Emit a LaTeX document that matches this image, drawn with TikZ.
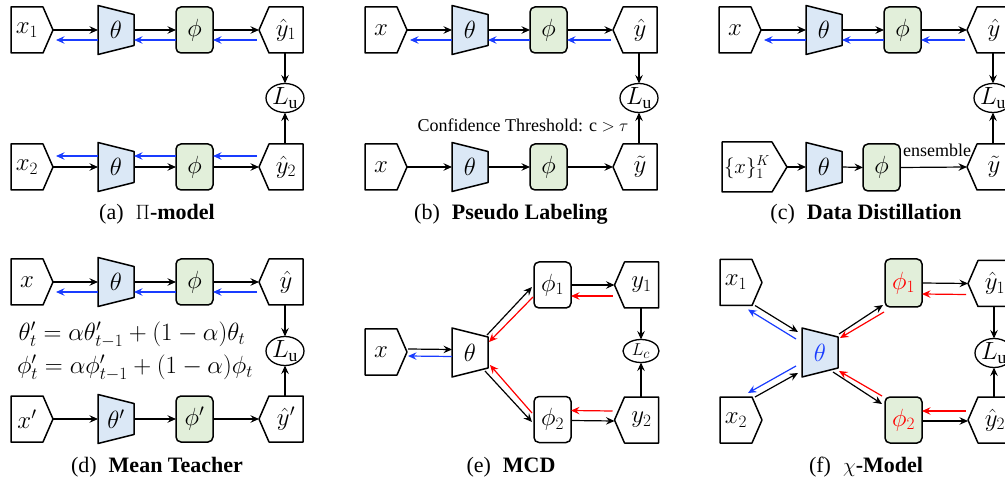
\documentclass[tikz,border=0pt]{standalone}
\usepackage{fontspec}
\setmainfont{Liberation Serif}
\usetikzlibrary{arrows.meta,calc,shapes.geometric}

\definecolor{thetafill}{RGB}{219,232,246}
\definecolor{phifill}{RGB}{226,239,218}
\definecolor{gradblue}{RGB}{25,60,255}
\definecolor{gradred}{RGB}{255,0,0}

\tikzset{
  blockline/.style={draw=black, line width=1.5pt, line join=round},
  mtxt/.style={font=\fontsize{25}{29}\selectfont, inner sep=0pt, outer sep=0pt},
  phibox/.style={mtxt, blockline, rounded corners=5pt, fill=phifill, minimum width=37pt, minimum height=46pt},
  lossnode/.style={ellipse, draw, line width=1.3pt, inner sep=0pt, outer sep=0pt, minimum width=38pt, minimum height=29pt},
  fw/.style={line width=1.2pt, -{Stealth[length=8.5pt,width=7.5pt,inset=3pt]}},
  bw/.style={fw, draw=gradblue},
  rw/.style={fw, draw=gradred},
  captxt/.style={font=\fontsize{22}{26}\selectfont, inner sep=0pt},
  notetxt/.style={font=\fontsize{18}{22}\selectfont, inner sep=0pt},
}

% input block, pointer on the right: name, cx, cy, width, height, pointer depth, text
\newcommand{\srcnode}[7]{%
  \node[mtxt, minimum width=#4pt, minimum height=#5pt] (#1) at (#2,#3) {#7};
  \draw[blockline] (#1.north west) -- (#1.north east) -- ($(#1.east)+(#6,0)$) coordinate (#1-t)
    -- (#1.south east) -- (#1.south west) -- cycle;}
% output block, pointer on the left
\newcommand{\outnode}[7]{%
  \node[mtxt, minimum width=#4pt, minimum height=#5pt] (#1) at (#2,#3) {#7};
  \draw[blockline] (#1.north east) -- (#1.north west) -- ($(#1.west)-(#6,0)$) coordinate (#1-t)
    -- (#1.south west) -- (#1.south east) -- cycle;}
% encoder trapezoid: name, cx, cy, fill, text
\newcommand{\encnode}[5]{%
  \coordinate (#1-c) at (#2,#3);
  \filldraw[blockline, fill=#4] ($(#1-c)+(-18,-24.5)$) -- ($(#1-c)+(18,-15.5)$)
    -- ($(#1-c)+(18,15.5)$) -- ($(#1-c)+(-18,24.5)$) -- cycle;
  \node[mtxt, minimum width=36pt, minimum height=49pt] (#1) at (#1-c) {#5};}

\begin{document}
\begin{tikzpicture}[x=1pt,y=-1pt]
\useasboundingbox (0,0) rectangle (1005,481);
\clip (0,0) rectangle (1005,481);

% ================= (a) Pi-model =================
\srcnode{a-x1}{27}{30}{32}{46}{10}{$x_1$}
\encnode{a-t1}{116}{30}{thetafill}{$\theta$}
\node[phibox] (a-p1) at (194.5,30) {$\phi$};
\outnode{a-y1}{286}{30}{34}{46}{10}{$\hat{y}_1$}
\srcnode{a-x2}{27}{167}{32}{46}{10}{$x_2$}
\encnode{a-t2}{116}{167}{thetafill}{$\theta$}
\node[phibox] (a-p2) at (194.5,167) {$\phi$};
\outnode{a-y2}{286}{167}{34}{46}{10}{$\hat{y}_2$}
\node[lossnode, label={[mtxt]center:$L_{\mathrm{u}}$}] (a-L) at (285,98) {};
\draw[fw] (a-x1-t) -- (a-t1.west);
\draw[fw] (a-t1.east) -- (a-p1.west);
\draw[fw] (a-p1.east) -- (a-y1-t);
\draw[bw] ($(a-t1.west)+(0,10)$) -- ($(a-x1-t)+(3,10)$);
\draw[bw] ($(a-p1.west)+(0,10)$) -- ($(a-t1.east)+(0,10)$);
\draw[bw] ($(a-y1-t)+(-2,10)$) -- ($(a-p1.east)+(0,10)$);
\draw[fw] (a-x2-t) -- (a-t2.west);
\draw[fw] (a-t2.east) -- (a-p2.west);
\draw[fw] (a-p2.east) -- (a-y2-t);
\draw[bw] ($(a-t2.west)+(0,-11)$) -- ($(a-x2-t)+(3,-11)$);
\draw[bw] ($(a-p2.west)+(0,-11)$) -- ($(a-t2.east)+(0,-11)$);
\draw[bw] ($(a-y2-t)+(-2,-11)$) -- ($(a-p2.east)+(0,-11)$);
\draw[fw] (a-y1.south -| a-L.north) -- (a-L.north);
\draw[fw] (a-y2.north -| a-L.south) -- (a-L.south);
\node[captxt] (a-cap) at (157,214) {(a)\hspace{12pt}$\Pi$\textbf{-model}};

% ================= (b) Pseudo Labeling =================
\begin{scope}[xshift=354pt]
\srcnode{b-x1}{27}{30}{32}{46}{10}{$x$}
\encnode{b-t1}{116}{30}{thetafill}{$\theta$}
\node[phibox] (b-p1) at (194.5,30) {$\phi$};
\outnode{b-y1}{286}{30}{34}{46}{10}{$\hat{y}$}
\srcnode{b-x2}{27}{167}{32}{46}{10}{$x$}
\encnode{b-t2}{116}{167}{thetafill}{$\theta$}
\node[phibox] (b-p2) at (194.5,167) {$\phi$};
\outnode{b-y2}{286}{167}{34}{46}{10}{$\tilde{y}$}
\node[lossnode, label={[mtxt]center:$L_{\mathrm{u}}$}] (b-L) at (285,98) {};
\draw[fw] (b-x1-t) -- (b-t1.west);
\draw[fw] (b-t1.east) -- (b-p1.west);
\draw[fw] (b-p1.east) -- (b-y1-t);
\draw[bw] ($(b-t1.west)+(0,10)$) -- ($(b-x1-t)+(3,10)$);
\draw[bw] ($(b-p1.west)+(0,10)$) -- ($(b-t1.east)+(0,10)$);
\draw[bw] ($(b-y1-t)+(-2,10)$) -- ($(b-p1.east)+(0,10)$);
\draw[fw] (b-x2-t) -- (b-t2.west);
\draw[fw] (b-t2.east) -- (b-p2.west);
\draw[fw] (b-p2.east) -- (b-y2-t);
\draw[fw] (b-y1.south -| b-L.north) -- (b-L.north);
\draw[fw] (b-y2.north -| b-L.south) -- (b-L.south);
\node[notetxt] (b-thr) at (169,125) {Confidence Threshold: c $>$ $\tau$};
\node[captxt] (b-cap) at (157,214) {(b)\hspace{12pt}\textbf{Pseudo Labeling}};
\end{scope}

% ================= (c) Data Distillation =================
\begin{scope}[xshift=708pt]
\srcnode{c-x1}{27}{30}{32}{46}{10}{$x$}
\encnode{c-t1}{116}{30}{thetafill}{$\theta$}
\node[phibox] (c-p1) at (194.5,30) {$\phi$};
\outnode{c-y1}{286}{30}{34}{46}{10}{$\hat{y}$}
\srcnode{c-x2}{39}{167}{50}{50}{15}{\fontsize{22}{26}\selectfont$\{x\}_1^K$}
\encnode{c-t2}{116}{167}{thetafill}{$\theta$}
\node[phibox, minimum height=47pt] (c-p2) at (173.5,167.5) {$\phi$};
\outnode{c-y2}{286}{167}{34}{46}{10}{$\tilde{y}$}
\node[lossnode, label={[mtxt]center:$L_{\mathrm{u}}$}] (c-L) at (285,98) {};
\draw[fw] (c-x1-t) -- (c-t1.west);
\draw[fw] (c-t1.east) -- (c-p1.west);
\draw[fw] (c-p1.east) -- (c-y1-t);
\draw[bw] ($(c-t1.west)+(0,10)$) -- ($(c-x1-t)+(3,10)$);
\draw[bw] ($(c-p1.west)+(0,10)$) -- ($(c-t1.east)+(0,10)$);
\draw[bw] ($(c-y1-t)+(-2,10)$) -- ($(c-p1.east)+(0,10)$);
\draw[fw] (c-x2-t) -- (c-t2.west);
\draw[fw] (c-t2.east) -- (c-p2.west);
\draw[fw] (c-p2.east) -- (c-y2-t);
\node[notetxt] (c-ens) at (229,150) {ensemble};
\draw[fw] (c-y1.south -| c-L.north) -- (c-L.north);
\draw[fw] (c-y2.north -| c-L.south) -- (c-L.south);
\node[captxt] (c-cap) at (158,214) {(c)\hspace{12pt}\textbf{Data Distillation}};
\end{scope}

% ================= (d) Mean Teacher =================
\srcnode{d-x1}{27}{282}{32}{46}{10}{$x$}
\encnode{d-t1}{116}{282}{thetafill}{$\theta$}
\node[phibox] (d-p1) at (194.5,282) {$\phi$};
\outnode{d-y1}{286}{282}{34}{46}{10}{$\hat{y}$}
\srcnode{d-x2}{27}{419}{32}{46}{10}{$x'$}
\encnode{d-t2}{116}{419}{thetafill}{$\theta'$}
\node[phibox] (d-p2) at (194.5,419) {$\phi'$};
\outnode{d-y2}{286}{419}{34}{46}{10}{$\hat{y}'$}
\node[lossnode, label={[mtxt]center:$L_{\mathrm{u}}$}] (d-L) at (285,351) {};
\draw[fw] (d-x1-t) -- (d-t1.west);
\draw[fw] (d-t1.east) -- (d-p1.west);
\draw[fw] (d-p1.east) -- (d-y1-t);
\draw[bw] ($(d-t1.west)+(0,10)$) -- ($(d-x1-t)+(3,10)$);
\draw[bw] ($(d-p1.west)+(0,10)$) -- ($(d-t1.east)+(0,10)$);
\draw[bw] ($(d-y1-t)+(-2,10)$) -- ($(d-p1.east)+(0,10)$);
\draw[fw] (d-x2-t) -- (d-t2.west);
\draw[fw] (d-t2.east) -- (d-p2.west);
\draw[fw] (d-p2.east) -- (d-y2-t);
\draw[fw] (d-y1.south -| d-L.north) -- (d-L.north);
\draw[fw] (d-y2.north -| d-L.south) -- (d-L.south);
\node[mtxt] (d-eq1) at (132,335) {$\theta'_t = \alpha\theta'_{t-1} + (1-\alpha)\theta_t$};
\node[mtxt] (d-eq2) at (135,368) {$\phi'_t = \alpha\phi'_{t-1} + (1-\alpha)\phi_t$};
\node[captxt] (d-cap) at (157,467) {(d)\hspace{12pt}\textbf{Mean Teacher}};

% ================= (e) MCD =================
\begin{scope}[xshift=354pt]
\srcnode{e-x}{27}{352}{32}{46}{10}{$x$}
\encnode{e-t}{116}{352.5}{white}{$\theta$}
\node[phibox, fill=white] (e-p1) at (198.5,285) {$\phi_1$};
\node[phibox, fill=white] (e-p2) at (198.5,419.5) {$\phi_2$};
\outnode{e-y1}{287.5}{285}{34}{46}{10}{$y_1$}
\outnode{e-y2}{287.5}{420}{34}{46}{10}{$y_2$}
\node[lossnode, minimum width=36pt, minimum height=23pt,
      label={[font=\fontsize{19}{22}\selectfont, inner sep=0pt]center:$L_c$}] (e-L) at (287,351) {};
\draw[fw] ($(e-x-t)+(1,-3)$) -- ($(e-t.west)+(0,-3)$);
\draw[bw] ($(e-t.west)+(0,4)$) -- ($(e-x-t)+(1,4)$);
\draw[fw] ($(e-t.east)+(-1,-17.5)$) -- ($(e-p1.west)+(-2,2)$);
\draw[rw] ($(e-p1.west)+(-1,12)$) -- ($(e-t.east)+(1,-10.5)$);
\draw[fw] ($(e-t.east)+(-3,18.5)$) -- ($(e-p2.west)+(-2,2.5)$);
\draw[rw] ($(e-p2.west)+(-2,-6.5)$) -- ($(e-t.east)+(2,12.5)$);
\draw[fw] (e-p1.east) -- (e-y1-t);
\draw[rw] ($(e-y1-t)+(-2,11)$) -- ($(e-p1.east)+(0,11)$);
\draw[rw] ($(e-y2-t)+(-2,-9)$) -- ($(e-p2.east)+(0,-9)$);
\draw[fw] ($(e-p2.east)+(0,1)$) -- ($(e-y2-t)+(0,1)$);
\draw[fw] (e-y1.south -| e-L.north) -- (e-L.north);
\draw[fw] (e-y2.north -| e-L.south) -- (e-L.south);
\node[captxt] (e-cap) at (157,467) {(e)\hspace{12pt}\textbf{MCD}};
\end{scope}

% ================= (f) chi-Model =================
\begin{scope}[xshift=708pt]
\srcnode{f-x1}{28}{282.5}{32}{46}{10}{$x_1$}
\srcnode{f-x2}{28}{420}{32}{46}{10}{$x_2$}
\encnode{f-t}{112}{352.5}{thetafill}{\color{gradblue}$\theta$}
\node[phibox, minimum height=48pt] (f-p1) at (195.5,283) {\color{gradred}$\phi_1$};
\node[phibox] (f-p2) at (195.5,420) {\color{gradred}$\phi_2$};
\outnode{f-y1}{287}{283.5}{34}{46}{10}{$\hat{y}_1$}
\outnode{f-y2}{287}{420}{34}{46}{10}{$\hat{y}_2$}
\node[lossnode, label={[mtxt]center:$L_{\mathrm{u}}$}] (f-L) at (286,353) {};
\draw[fw] ($(f-x1.south east)+(3,0)$) -- ($(f-t.west)+(-4,-20.5)$);
\draw[bw] ($(f-t.west)+(-6,-13.5)$) -- ($(f-x1.south east)+(-4,4)$);
\draw[fw] ($(f-x2.north east)+(3,0)$) -- ($(f-t.west)+(-4,20.5)$);
\draw[bw] ($(f-t.west)+(-6,13.5)$) -- ($(f-x2.north east)+(-4,-4)$);
\draw[fw] ($(f-t.east)+(1,-18.5)$) -- ($(f-p1.south west)+(-2,-2)$);
\draw[rw] ($(f-p1.south west)+(-1,5)$) -- ($(f-t.east)+(2,-14.5)$);
\draw[fw] ($(f-t.east)+(-5,19.5)$) -- ($(f-p2.north west)+(-3,7)$);
\draw[rw] ($(f-p2.north west)+(-3,-1)$) -- ($(f-t.east)+(1,18.5)$);
\draw[fw] (f-p1.east) -- (f-y1-t);
\draw[rw] ($(f-y1-t)+(-2,11)$) -- ($(f-p1.east)+(0,11)$);
\draw[rw] ($(f-y2-t)+(-2,-9)$) -- ($(f-p2.east)+(0,-9)$);
\draw[fw] ($(f-p2.east)+(0,1)$) -- ($(f-y2-t)+(0,1)$);
\draw[fw] (f-y1.south -| f-L.north) -- (f-L.north);
\draw[fw] (f-y2.north -| f-L.south) -- (f-L.south);
\node[captxt] (f-cap) at (158,467) {(f)\hspace{12pt}$\chi$\textbf{-Model}};
\end{scope}
\end{tikzpicture}
\end{document}
